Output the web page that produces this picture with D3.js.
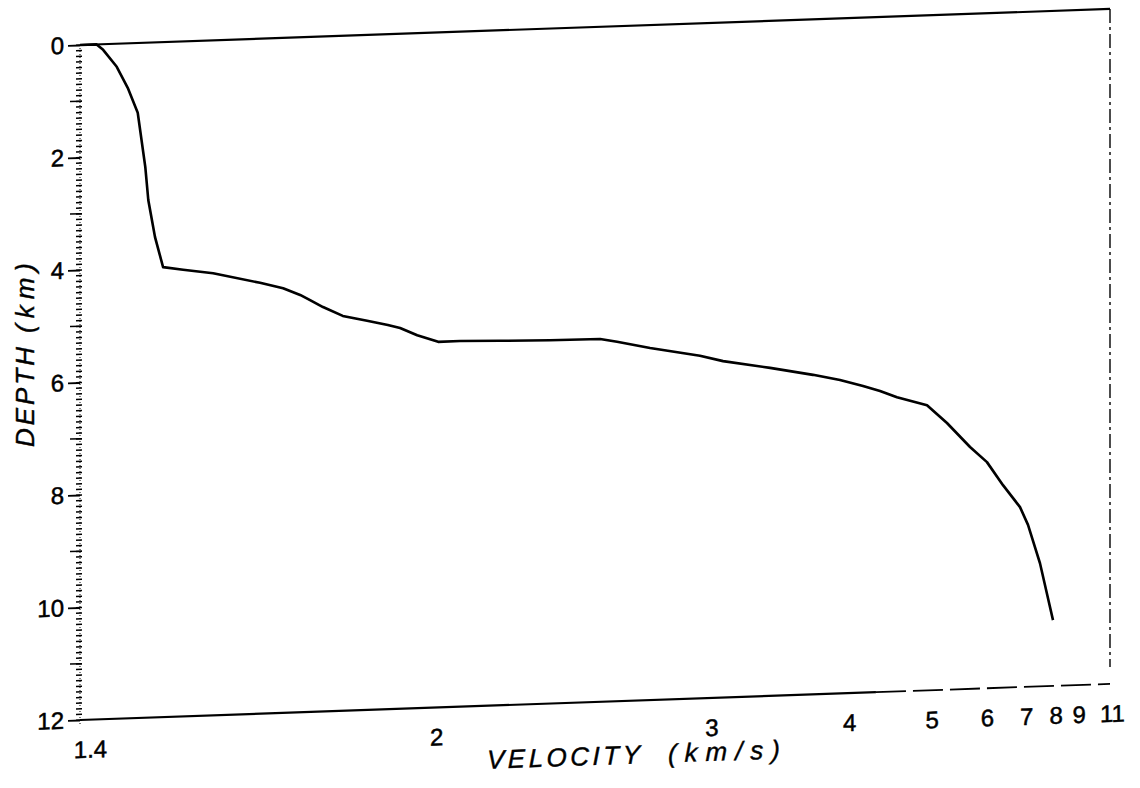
<!DOCTYPE html>
<html>
<head>
<meta charset="utf-8">
<script src="https://cdn.jsdelivr.net/npm/d3@7"></script>
<style>
  body { margin: 0; background: #fff; }
  svg { display: block; }
  text { fill: #000; }
</style>
</head>
<body>
<svg id="chart" width="1140" height="788"></svg>
<script>
// Velocity-depth profile (velocity in km/s, depth in km)
const velocity = [1.40, 1.42, 1.428, 1.445, 1.459, 1.472, 1.482, 1.486, 1.495, 1.506,
                  1.534, 1.578, 1.652, 1.691, 1.721, 1.739, 1.763, 1.801, 1.850, 1.894,
                  1.921, 1.960, 2.010, 2.065, 2.173, 2.326, 2.503, 2.569, 2.708, 2.949,
                  3.076, 3.371, 3.695, 3.932, 4.160, 4.346, 4.549, 4.959, 5.275, 5.694,
                  6.047, 6.424, 6.879, 7.116, 7.503, 7.974];
const depth = [0.00, 0.00, 0.10, 0.41, 0.79, 1.24, 2.21, 2.80, 3.46, 4.00,
               4.06, 4.14, 4.34, 4.45, 4.58, 4.68, 4.81, 4.98, 5.08, 5.17,
               5.23, 5.37, 5.50, 5.50, 5.52, 5.54, 5.55, 5.61, 5.74, 5.91,
               6.02, 6.17, 6.32, 6.43, 6.55, 6.65, 6.77, 6.93, 7.26, 7.70,
               7.98, 8.40, 8.80, 9.12, 9.81, 10.83];

const velocityTicks = [1.4, 2, 3, 4, 5, 6, 7, 8, 9, 11];
const velocityTickLabels = ["1.4", "2", "3", "4", "5", "6", "7", "8", "9", "11"];
const depthTicks = [0, 2, 4, 6, 8, 10, 12];
const depthTickLabels = ["0", "2", "4", "6", "8", "10", "12"];

const svg = d3.select("#chart");
const W = 1030, H = 675;

// Velocity axis is linear in slowness (1/v)
const x = d3.scalePow().exponent(-1).domain([1.4, 11]).range([0, W]);
const y = d3.scaleLinear().domain([0, 12]).range([0, H]);

// Plot frame is drawn with a slight skew
const skewDeg = Math.atan(-0.035) * 180 / Math.PI;
const g = svg.append("g").attr("transform", `translate(80,45) skewY(${skewDeg})`);

const font = "'Liberation Sans', Arial, sans-serif";

// Top frame line (depth 0)
g.append("line")
  .attr("x1", x(1.4)).attr("x2", x(11))
  .attr("y1", y(0)).attr("y2", y(0))
  .attr("stroke", "#000").attr("stroke-width", 2.2);

// Bottom frame line (depth 12): solid, then broken toward the right
g.append("line")
  .attr("x1", x(1.4)).attr("x2", x(4.3))
  .attr("y1", y(12)).attr("y2", y(12))
  .attr("stroke", "#000").attr("stroke-width", 2.2);
g.append("line")
  .attr("x1", x(4.3)).attr("x2", x(11))
  .attr("y1", y(12)).attr("y2", y(12))
  .attr("stroke", "#000").attr("stroke-width", 1.8)
  .attr("stroke-dasharray", "30,7");

// Right frame line (dashed)
g.append("line")
  .attr("x1", x(11)).attr("x2", x(11))
  .attr("y1", y(0)).attr("y2", y(11.7))
  .attr("stroke", "#000").attr("stroke-width", 1.4)
  .attr("stroke-dasharray", "14,4,3,4");

// Depth axis: dotted spine with fine ticks every 0.1 km
g.append("line")
  .attr("x1", 0).attr("x2", 0)
  .attr("y1", y(0)).attr("y2", y(12.1))
  .attr("stroke", "#000").attr("stroke-width", 1)
  .attr("stroke-dasharray", "1,2");

const fine = d3.range(0, 121).map(i => i / 10);
g.append("g").selectAll("line").data(fine).join("line")
  .attr("x1", -4).attr("x2", 2)
  .attr("y1", d => y(d)).attr("y2", d => y(d))
  .attr("stroke", "#000").attr("stroke-width", 1.5);

const mid = [1, 3, 5, 7, 9, 11];
g.append("g").selectAll("line").data(mid).join("line")
  .attr("x1", -10).attr("x2", 2)
  .attr("y1", d => y(d)).attr("y2", d => y(d))
  .attr("stroke", "#000").attr("stroke-width", 1.5);

const yAxis = g.append("g")
  .call(d3.axisLeft(y)
    .tickValues(depthTicks)
    .tickFormat((d, i) => depthTickLabels[i])
    .tickSize(12)
    .tickPadding(4));
yAxis.select(".domain").remove();
yAxis.selectAll(".tick line").attr("stroke", "#000").attr("stroke-width", 1.8);
yAxis.selectAll(".tick text")
  .attr("font-family", font).attr("font-size", 24).attr("fill", "#000")
  .attr("stroke", "#000").attr("stroke-width", 0.5);

// Velocity axis labels (no tick marks)
const xAxis = g.append("g")
  .attr("transform", `translate(0,${y(12)})`)
  .call(d3.axisBottom(x)
    .tickValues(velocityTicks)
    .tickFormat((d, i) => velocityTickLabels[i])
    .tickSize(0)
    .tickPadding(21));
xAxis.select(".domain").remove();
xAxis.selectAll(".tick text")
  .attr("font-family", font).attr("font-size", 24).attr("fill", "#000")
  .attr("stroke", "#000").attr("stroke-width", 0.5)
  .attr("dx", (d, i) => i === 0 ? 10 : 2);

// Velocity profile
const profile = velocity.map((v, i) => ({ v, d: depth[i] }));
g.append("path")
  .datum(profile)
  .attr("fill", "none")
  .attr("stroke", "#000")
  .attr("stroke-width", 2.6)
  .attr("stroke-linejoin", "round")
  .attr("d", d3.line().x(d => x(d.v)).y(d => y(d.d)));

// Axis titles
const titleStyle = sel => sel
  .attr("font-family", font).attr("font-size", 26).attr("font-style", "italic")
  .attr("stroke", "#000").attr("stroke-width", 0.4)
  .attr("lengthAdjust", "spacing");

g.append("text")
  .attr("x", 407).attr("y", 738)
  .attr("textLength", 153)
  .call(titleStyle)
  .text("VELOCITY");
g.append("text")
  .attr("x", 588).attr("y", 738)
  .attr("textLength", 112)
  .call(titleStyle)
  .text("(km/s)");

const yTitle = svg.append("g").attr("transform", "translate(34,355) rotate(-90)");
yTitle.append("text")
  .attr("x", -92).attr("y", 0)
  .attr("textLength", 100)
  .call(titleStyle)
  .text("DEPTH");
yTitle.append("text")
  .attr("x", 22).attr("y", 0)
  .attr("textLength", 70)
  .call(titleStyle)
  .text("(km)");
</script>
</body>
</html>
